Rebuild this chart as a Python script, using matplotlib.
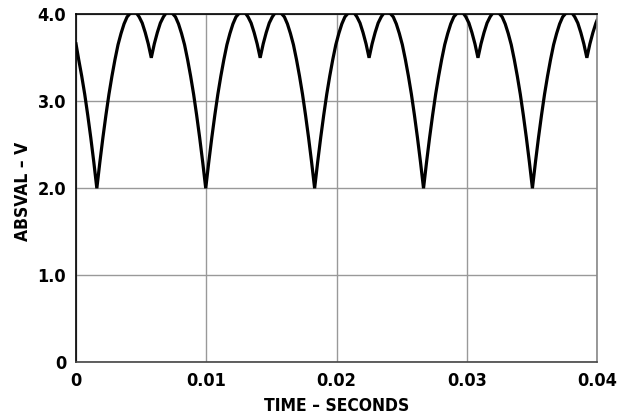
import matplotlib
matplotlib.use("Agg")
import matplotlib.pyplot as plt

plt.rcParams['font.family'] = ['DejaVu Sans']
plt.rcParams['font.stretch'] = 'condensed'
plt.rcParams['font.weight'] = 'bold'
plt.rcParams['axes.labelweight'] = 'bold'

# samples, one row per ripple cycle
time_s = [
    0.0, 0.000207, 0.000439, 0.000671, 0.000903, 0.001136, 0.001368,
    0.001600, 0.001832, 0.002064, 0.002297, 0.002529, 0.002761, 0.002993, 0.003226, 0.003458,
    0.003690, 0.003922, 0.004154, 0.004387, 0.004619, 0.004851, 0.005083, 0.005316, 0.005548,
    0.005780, 0.006012, 0.006244, 0.006477, 0.006709, 0.006941, 0.007173, 0.007406, 0.007638,
    0.007870, 0.008102, 0.008334, 0.008567, 0.008799, 0.009031, 0.009263, 0.009496, 0.009728,
    0.009960, 0.010192, 0.010424, 0.010657, 0.010889, 0.011121, 0.011353, 0.011586, 0.011818,
    0.012050, 0.012282, 0.012514, 0.012747, 0.012979, 0.013211, 0.013443, 0.013676, 0.013908,
    0.014140, 0.014372, 0.014604, 0.014837, 0.015069, 0.015301, 0.015533, 0.015766, 0.015998,
    0.016230, 0.016462, 0.016694, 0.016927, 0.017159, 0.017391, 0.017623, 0.017856, 0.018088,
    0.018320, 0.018552, 0.018784, 0.019017, 0.019249, 0.019481, 0.019713, 0.019946, 0.020178,
    0.020410, 0.020642, 0.020874, 0.021107, 0.021339, 0.021571, 0.021803, 0.022036, 0.022268,
    0.022500, 0.022732, 0.022964, 0.023197, 0.023429, 0.023661, 0.023893, 0.024126, 0.024358,
    0.024590, 0.024822, 0.025054, 0.025287, 0.025519, 0.025751, 0.025983, 0.026216, 0.026448,
    0.026680, 0.026912, 0.027144, 0.027377, 0.027609, 0.027841, 0.028073, 0.028306, 0.028538,
    0.028770, 0.029002, 0.029234, 0.029467, 0.029699, 0.029931, 0.030163, 0.030396, 0.030628,
    0.030860, 0.031092, 0.031324, 0.031557, 0.031789, 0.032021, 0.032253, 0.032486, 0.032718,
    0.032950, 0.033182, 0.033414, 0.033647, 0.033879, 0.034111, 0.034343, 0.034576, 0.034808,
    0.035040, 0.035272, 0.035504, 0.035737, 0.035969, 0.036201, 0.036433, 0.036666, 0.036898,
    0.037130, 0.037362, 0.037594, 0.037827, 0.038059, 0.038291, 0.038523, 0.038756, 0.038988,
    0.039220, 0.039452, 0.039684, 0.039917, 0.04,
]
absval_v = [
    3.66, 3.48, 3.29, 3.08, 2.84, 2.58, 2.30,
    2.00, 2.30, 2.58, 2.84, 3.08, 3.29, 3.48, 3.65, 3.78,
    3.89, 3.97, 4.01, 4.03, 4.02, 3.97, 3.90, 3.79, 3.66,
    3.50, 3.66, 3.79, 3.90, 3.97, 4.02, 4.03, 4.01, 3.97,
    3.89, 3.78, 3.65, 3.48, 3.29, 3.08, 2.84, 2.58, 2.30,
    2.00, 2.30, 2.58, 2.84, 3.08, 3.29, 3.48, 3.65, 3.78,
    3.89, 3.97, 4.01, 4.03, 4.02, 3.97, 3.90, 3.79, 3.66,
    3.50, 3.66, 3.79, 3.90, 3.97, 4.02, 4.03, 4.01, 3.97,
    3.89, 3.78, 3.65, 3.48, 3.29, 3.08, 2.84, 2.58, 2.30,
    2.00, 2.30, 2.58, 2.84, 3.08, 3.29, 3.48, 3.65, 3.78,
    3.89, 3.97, 4.01, 4.03, 4.02, 3.97, 3.90, 3.79, 3.66,
    3.50, 3.66, 3.79, 3.90, 3.97, 4.02, 4.03, 4.01, 3.97,
    3.89, 3.78, 3.65, 3.48, 3.29, 3.08, 2.84, 2.58, 2.30,
    2.00, 2.30, 2.58, 2.84, 3.08, 3.29, 3.48, 3.65, 3.78,
    3.89, 3.97, 4.01, 4.03, 4.02, 3.97, 3.90, 3.79, 3.66,
    3.50, 3.66, 3.79, 3.90, 3.97, 4.02, 4.03, 4.01, 3.97,
    3.89, 3.78, 3.65, 3.48, 3.29, 3.08, 2.84, 2.58, 2.30,
    2.00, 2.30, 2.58, 2.84, 3.08, 3.29, 3.48, 3.65, 3.78,
    3.89, 3.97, 4.01, 4.03, 4.02, 3.97, 3.90, 3.79, 3.66,
    3.50, 3.66, 3.79, 3.90, 3.93,
]

x_ticks = [0, 0.01, 0.02, 0.03, 0.04]
x_labels = ["0", "0.01", "0.02", "0.03", "0.04"]
y_ticks = [0, 1, 2, 3, 4]
y_labels = ["0", "1.0", "2.0", "3.0", "4.0"]

fig = plt.figure(figsize=(6.27, 4.18), dpi=100)
ax = fig.add_axes([0.1212, 0.1333, 0.8310, 0.8325])

ax.plot(time_s, absval_v, color="black", lw=2.3, solid_joinstyle="miter")

ax.set_xlim(0, 0.04)
ax.set_ylim(0, 4)
ax.set_xticks(x_ticks)
ax.set_xticklabels(x_labels)
ax.set_yticks(y_ticks)
ax.set_yticklabels(y_labels)
ax.tick_params(length=0, labelsize=13, pad=7)
ax.grid(True, color="#999999", lw=1.0)
ax.set_axisbelow(True)

for side in ["left", "top"]:
    ax.spines[side].set_color("black")
    ax.spines[side].set_linewidth(1.2)
ax.spines["bottom"].set_color("#444444")
ax.spines["bottom"].set_linewidth(1.2)
ax.spines["right"].set_color("#888888")
ax.spines["right"].set_linewidth(1.2)

ax.set_xlabel("TIME – SECONDS", fontsize=12.5)
ax.set_ylabel("ABSVAL – V", fontsize=12.5)
ax.xaxis.set_label_coords(0.5, -0.126)
ax.yaxis.set_label_coords(-0.102, 0.492)
ax.xaxis.label.set_va("center")
ax.yaxis.label.set_va("center")

fig.savefig("out.png", dpi=100)
